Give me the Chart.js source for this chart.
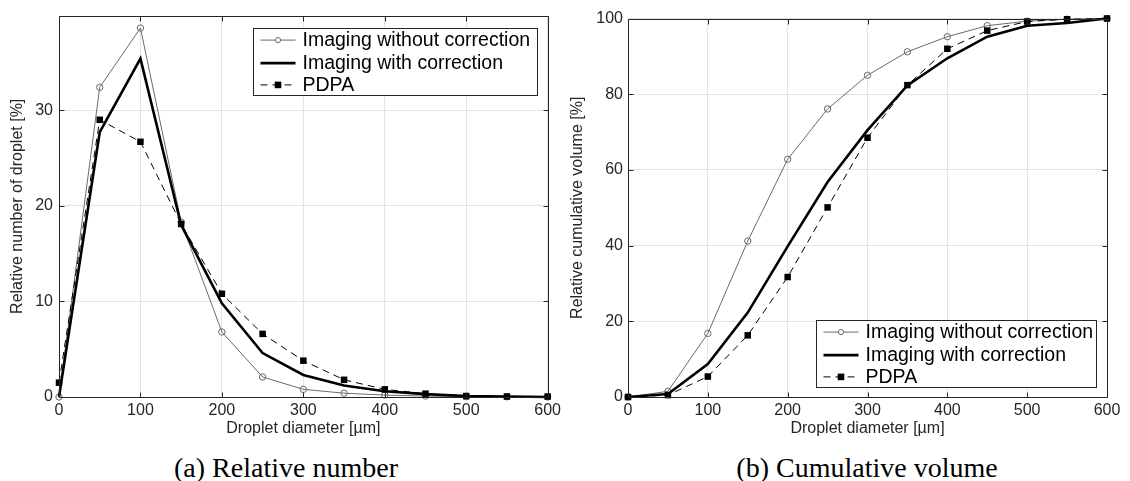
<!DOCTYPE html>
<html>
<head>
<meta charset="utf-8">
<script src="https://cdn.jsdelivr.net/npm/chart.js@4/dist/chart.umd.min.js"></script>
<style>
  html, body { margin: 0; padding: 0; background: #fff; }
  body { width: 1130px; height: 481px; position: relative; overflow: hidden; }
  canvas { position: absolute; top: 0; }
  #c1 { left: 0px; }
  #c2 { left: 560px; }
  .cap { position: absolute; font-family: "Liberation Serif", "Times New Roman", serif; font-size: 28px; line-height: 28px; color: #000; white-space: nowrap; transform: translateX(-50%); top: 454px; }
</style>
</head>
<body>
<canvas id="c1" width="565" height="445" style="width:565px;height:445px"></canvas>
<canvas id="c2" width="570" height="445" style="width:570px;height:445px"></canvas>
<div class="cap" style="left:286px">(a) Relative number</div>
<div class="cap" style="left:867px">(b) Cumulative volume</div>
<script>
// ---- data ----
const diameters = [0, 50, 100, 150, 200, 250, 300, 350, 400, 450, 500, 550, 600];
const seriesNames = ["Imaging without correction", "Imaging with correction", "PDPA"];
const numWithout = [0, 32.4, 38.6, 18.3, 6.8, 2.1, 0.8, 0.4, 0.2, 0.1, 0.03, 0.02, 0];
const numWith    = [0, 27.7, 35.4, 18.0, 9.8, 4.6, 2.3, 1.2, 0.6, 0.3, 0.1, 0.05, 0];
const numPDPA    = [1.5, 29.0, 26.7, 18.1, 10.8, 6.6, 3.8, 1.8, 0.8, 0.35, 0.1, 0.05, 0.05];
const volWithout = [0, 1.5, 16.8, 41.2, 62.8, 76.1, 85.0, 91.2, 95.2, 98.1, 99.3, 99.8, 100];
const volWith    = [0, 0.8, 8.7, 22.3, 39.8, 56.8, 70.5, 82.3, 89.5, 95.2, 98.1, 98.8, 100];
const volPDPA    = [0, 0.5, 5.4, 16.3, 31.7, 50.1, 68.5, 82.4, 92.0, 96.8, 99.2, 99.8, 100];
const xTicksStep = 100;
const yStepNum = 10;
const yStepVol = 20;

const toXY = (vals) => vals.map((v, i) => ({ x: diameters[i], y: v }));

const FONT = '"Liberation Sans", Arial, Helvetica, sans-serif';
const AXC = '#262626';
const GRAY = '#6a6a6a';

function makeDatasets(a, b, c) {
  return [
    { label: seriesNames[0], data: toXY(a), borderColor: GRAY, borderWidth: 1,
      pointStyle: 'circle', pointRadius: 3.2, pointBorderWidth: 1, pointBorderColor: GRAY,
      pointBackgroundColor: 'rgba(0,0,0,0)', tension: 0, clip: false, order: 2 },
    { label: seriesNames[1], data: toXY(b), borderColor: '#000', borderWidth: 2.6,
      pointRadius: 0, tension: 0, clip: false, order: 1 },
    { label: seriesNames[2], data: toXY(c), borderColor: '#000', borderWidth: 1,
      borderDash: [7, 5], pointStyle: 'rect', pointRadius: 4.6, pointBorderWidth: 0,
      pointBackgroundColor: '#000', pointBorderColor: '#000', tension: 0, clip: false, order: 0 }
  ];
}

// frame with inward ticks on all sides
const framePlugin = {
  id: 'frame',
  afterDraw(chart) {
    const ctx = chart.ctx, a = chart.chartArea;
    const xs = chart.scales.x, ys = chart.scales.y;
    const L = Math.round(a.left) + 0.5, R = Math.round(a.right) + 0.5;
    const T = Math.round(a.top) + 0.5, B = Math.round(a.bottom) + 0.5;
    ctx.save();
    ctx.strokeStyle = AXC;
    ctx.lineWidth = 1;
    ctx.setLineDash([]);
    ctx.beginPath();
    ctx.rect(L, T, R - L, B - T);
    const tl = 5;
    xs.ticks.forEach(t => {
      const px = Math.round(xs.getPixelForValue(t.value)) + 0.5;
      ctx.moveTo(px, B); ctx.lineTo(px, B - tl);
      ctx.moveTo(px, T); ctx.lineTo(px, T + tl);
    });
    ys.ticks.forEach(t => {
      const py = Math.round(ys.getPixelForValue(t.value)) + 0.5;
      ctx.moveTo(L, py); ctx.lineTo(L + tl, py);
      ctx.moveTo(R, py); ctx.lineTo(R - tl, py);
    });
    ctx.stroke();
    ctx.restore();
  }
};

// legend box inside the plot
const boxLegendPlugin = {
  id: 'boxLegend',
  afterDraw(chart, args, opts) {
    const ctx = chart.ctx, a = chart.chartArea;
    ctx.save();
    ctx.font = '19.5px ' + FONT;
    const texts = chart.data.datasets.map(d => d.label);
    const tw = Math.max(...texts.map(t => ctx.measureText(t).width));
    const w = 49 + tw + opts.padR, h = 67;
    const left = a.right - opts.right - w;
    const top = opts.anchor === 'top' ? a.top + opts.offset : a.bottom - opts.offset - h;
    const x0 = Math.round(left) + 0.5, y0 = Math.round(top) + 0.5;
    ctx.fillStyle = '#fff';
    ctx.fillRect(x0, y0, Math.round(w), h);
    ctx.strokeStyle = AXC; ctx.lineWidth = 1; ctx.setLineDash([]);
    ctx.strokeRect(x0, y0, Math.round(w), h);
    const rows = [11.6, 34.6, 56.4];
    chart.data.datasets.forEach((d, i) => {
      const cy = y0 + rows[i];
      ctx.strokeStyle = d.borderColor; ctx.lineWidth = d.borderWidth;
      ctx.setLineDash(d.borderDash || []);
      ctx.beginPath(); ctx.moveTo(x0 + 7, cy); ctx.lineTo(x0 + 42, cy); ctx.stroke();
      ctx.setLineDash([]);
      const mx = x0 + 24.5;
      if (d.pointRadius > 0) {
        if (d.pointStyle === 'circle') {
          ctx.beginPath(); ctx.arc(mx, cy, 2.6, 0, Math.PI * 2);
          ctx.fillStyle = '#fff'; ctx.fill();
          ctx.strokeStyle = d.pointBorderColor; ctx.lineWidth = 1; ctx.stroke();
        } else {
          ctx.fillStyle = d.pointBackgroundColor;
          ctx.fillRect(mx - 3.3, cy - 3.3, 6.6, 6.6);
        }
      }
      ctx.fillStyle = '#000';
      ctx.textBaseline = 'middle';
      ctx.textAlign = 'left';
      ctx.fillText(d.label, x0 + 49, cy + 1);
    });
    ctx.restore();
  }
};

function makeOptions(cfg) {
  return {
    responsive: false, animation: false, devicePixelRatio: 1,
    layout: { padding: cfg.padding },
    plugins: { legend: { display: false }, tooltip: { enabled: false }, boxLegend: cfg.legend },
    scales: {
      x: {
        type: 'linear', min: 0, max: 600,
        ticks: { stepSize: xTicksStep, padding: 4, color: AXC, font: { family: FONT, size: 16 }, maxRotation: 0 },
        grid: { color: '#e4e4e4', lineWidth: 1, drawTicks: false },
        border: { display: false },
        title: { display: true, text: 'Droplet diameter [µm]', color: AXC, font: { family: FONT, size: 16 }, padding: { top: 0, bottom: 4 } },
        afterFit(s) { s.height = 45; }
      },
      y: {
        type: 'linear', min: 0, max: cfg.ymax,
        ticks: { stepSize: cfg.ystep, includeBounds: false, padding: cfg.ypad, color: AXC, font: { family: FONT, size: 16 } },
        grid: { color: '#e4e4e4', lineWidth: 1, drawTicks: false },
        border: { display: false },
        title: { display: true, text: cfg.ytitle, color: AXC, font: { family: FONT, size: 16 }, padding: { top: 8, bottom: 0 } },
        afterFit(s) { s.width = cfg.ywidth; }
      }
    }
  };
}

new Chart(document.getElementById('c1'), {
  type: 'line',
  data: { datasets: makeDatasets(numWithout, numWith, numPDPA) },
  options: makeOptions({
    padding: { left: 0, right: 17, top: 10, bottom: 3 },
    ymax: 39.9, ystep: yStepNum, ypad: 6, ywidth: 59,
    ytitle: 'Relative number of droplet [%]',
    legend: { anchor: 'top', offset: 12, right: 11, padR: 7 }
  }),
  plugins: [framePlugin, boxLegendPlugin]
});

new Chart(document.getElementById('c2'), {
  type: 'line',
  data: { datasets: makeDatasets(volWithout, volWith, volPDPA) },
  options: makeOptions({
    padding: { left: 0, right: 23, top: 18.5, bottom: 3 },
    ymax: 100, ystep: yStepVol, ypad: 5, ywidth: 68,
    ytitle: 'Relative cumulative volume [%]',
    legend: { anchor: 'bottom', offset: 10, right: 11, padR: 3 }
  }),
  plugins: [framePlugin, boxLegendPlugin]
});
</script>
</body>
</html>
